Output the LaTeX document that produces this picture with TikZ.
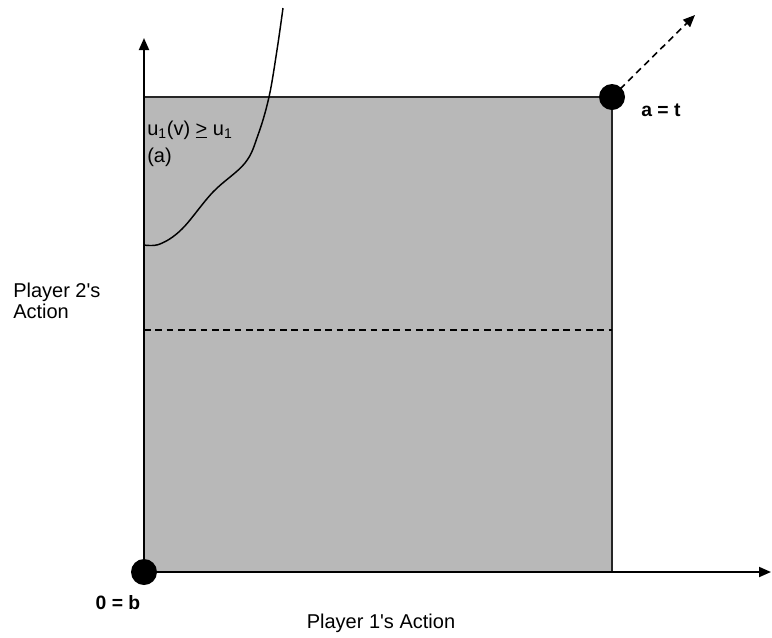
\documentclass[tikz,border=0pt]{standalone}
\usepackage{fontspec}
\setmainfont{Liberation Sans}
\usepackage{xcolor}
\usetikzlibrary{arrows.meta, positioning}
\definecolor{regiongray}{RGB}{184,184,184}
\tikzstyle{region} = [draw=black!85, line width=1.5pt, fill=regiongray]
\tikzstyle{axis} = [-{Triangle[length=9pt, width=7.5pt]}, line width=1.4pt]
\tikzstyle{dot} = [circle, fill=black, inner sep=0pt, minimum size=19.5pt]
\tikzstyle{lbl} = [inner sep=0pt, font=\fontsize{15}{16}\selectfont]
\tikzstyle{blbl} = [inner sep=0pt, font=\fontsize{14.5}{16}\selectfont\bfseries]
\tikzstyle{dashline} = [dashed, dash pattern=on 5pt off 3.5pt, line width=1.2pt]

\begin{document}
\begin{tikzpicture}[x=0.75pt, y=-0.75pt]
  \useasboundingbox (0,0) rectangle (772,637);
  % Feasible region
  \draw[region] (144,97) rectangle (612,572);
  % Axes
  \coordinate (ytip) at (144,38);
  \coordinate (xtip) at (771,572);
  \node[dot] (orig) at (144,572) {};
  \node[dot] (topr) at (612,97) {};
  \draw[axis] (orig.center) -- (ytip);
  \draw[axis] (orig.center) -- (xtip);
  % Dashed level and direction
  \coordinate (midl) at (144,330);
  \coordinate (midr) at (612,330);
  \draw[dashline] (midl) -- (midr);
  \coordinate (dir) at (695,15);
  \draw[dashline, -{Triangle[length=9pt, width=7.5pt]}] (topr.center) -- (dir);
  % Boundary curve
  \draw[line width=1.1pt] plot[smooth, tension=0.6] coordinates
    {(144,245) (160,244) (182,229) (213,192) (245,163) (258,135) (269,97) (277,50) (283,8)};
  % Labels
  \node[lbl, anchor=base west] (ucond) at (147,135) {u\textsubscript{1}(v) \underline{>} u\textsubscript{1}};
  \node[lbl, anchor=base west] (ucase) at (147,162) {(a)};
  \node[blbl] (tlbl) at (661,110) {a = t};
  \node[blbl] (blbl) at (118,603) {0 = b};
  \node[lbl, anchor=west, align=left] (ylbl) at (13,301) {Player 2\textquotesingle s\\Action};
  \node[lbl] (xlbl) at (381,623) {Player 1\textquotesingle s Action};
\end{tikzpicture}
\end{document}
